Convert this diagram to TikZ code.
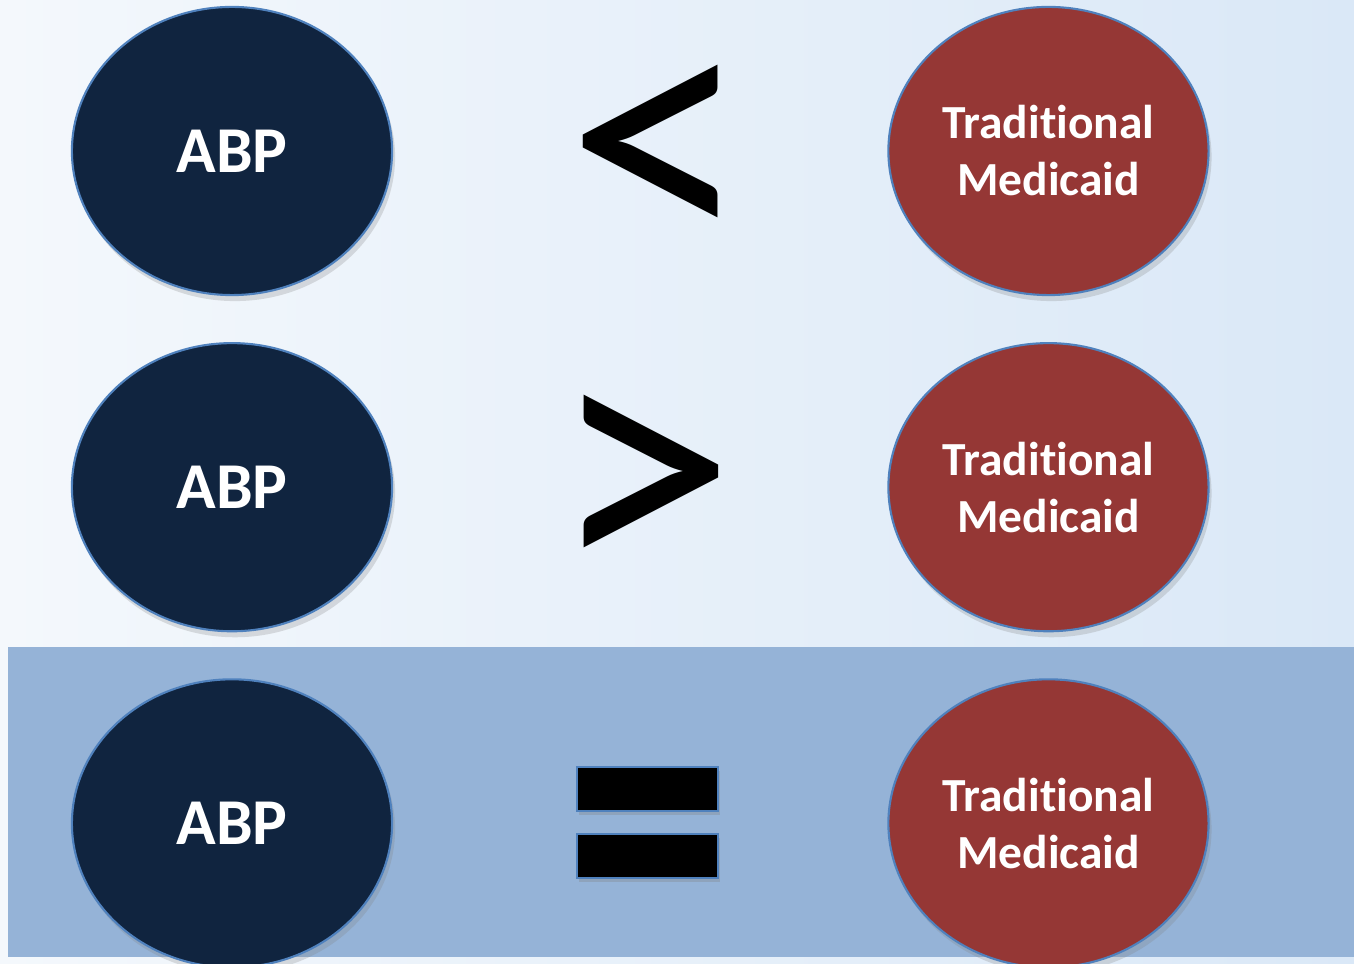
\documentclass[tikz,border=0pt]{standalone}
\usepackage{fontspec}
\setmainfont{Carlito}[Ligatures=NoCommon]
\usetikzlibrary{positioning,shapes.geometric,shadows}

\definecolor{navy}{HTML}{10243F}
\definecolor{brick}{HTML}{953735}
\definecolor{rim}{HTML}{4F81BD}
\definecolor{band}{HTML}{95B3D7}
\definecolor{paleL}{HTML}{F4F8FC}
\definecolor{paleR}{HTML}{DAE8F7}

\begin{document}
\begin{tikzpicture}[x=0.01cm,y=-0.01cm,
    node distance=3.36cm and 8.16cm,on grid,
    blob/.style={ellipse,draw=rim,line width=0.6pt,
      minimum width=3.2cm,minimum height=2.88cm,inner sep=0pt,text=white,
      drop shadow={shadow xshift=0.03cm,shadow yshift=-0.06cm,opacity=0.25}},
    abp/.style={blob,fill=navy,font=\fontsize{18.6}{20}\selectfont\bfseries},
    med/.style={blob,fill=brick,align=center,
      font=\fontsize{13.5}{16.2}\selectfont\bfseries},
    sign/.style={inner sep=0pt,font=\fontsize{105}{105}\selectfont},
    bar/.style={fill=black,draw=rim,line width=0.6pt,
      drop shadow={shadow xshift=0.02cm,shadow yshift=-0.04cm,opacity=0.3}}]
    % background and highlight band
    \useasboundingbox (0,0) rectangle (1354,964);
    \shade[left color=paleL,right color=paleR] (0,0) rectangle (1354,964);
    \fill[band] (8,647) rectangle (1354,957);

    % left and right circles
    \node[abp] (abp1) at (232,151)    {ABP};
    \node[med] (med1) [right=of abp1] {Traditional\\Medicaid};
    \node[abp] (abp2) [below=of abp1] {ABP};
    \node[med] (med2) [right=of abp2] {Traditional\\Medicaid};
    \node[abp] (abp3) [below=of abp2] {ABP};
    \node[med] (med3) [right=of abp3] {Traditional\\Medicaid};

    % comparison signs
    \node[sign] (less) at (658,162) {<};
    \node[sign] (more) at (643,492) {>};
    \draw[bar] (577,767) rectangle (718,811);
    \draw[bar] (577,834) rectangle (718,878);
\end{tikzpicture}
\end{document}
